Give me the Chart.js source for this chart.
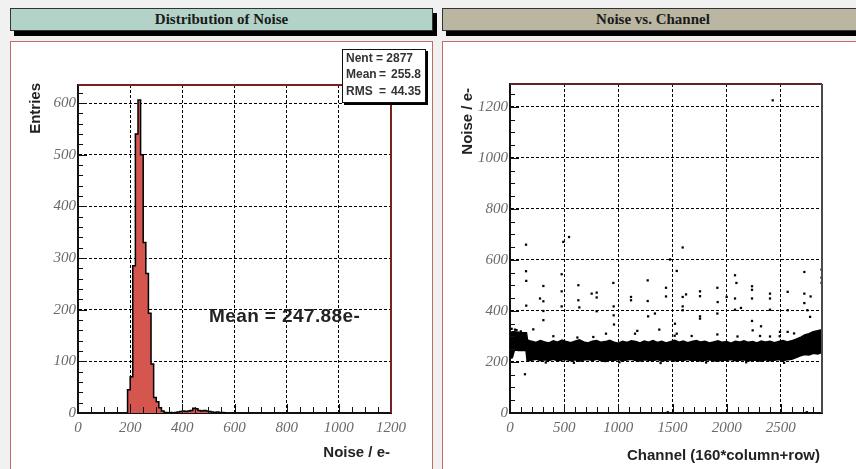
<!DOCTYPE html>
<html>
<head>
<meta charset="utf-8">
<title>Noise</title>
<script src="https://cdn.jsdelivr.net/npm/chart.js"></script>
<style>
  body { margin: 0; width: 856px; height: 469px; background: #f1f1f1; position: relative; overflow: hidden;
         font-family: 'Liberation Sans', Arial, sans-serif; }
  .bar { position: absolute; top: 8px; height: 21px; border: 1px solid #333; box-shadow: 4px 5px 0 #000;
         font: bold 15px 'Liberation Serif', serif; color: #1a1a1a; text-align: center; line-height: 21px; }
  .pad { position: absolute; top: 41px; height: 440px; background: #fff; border: 1.5px solid #c06a6a; }
  canvas { position: absolute; }
  .ttl { position: absolute; font: bold 15px 'Liberation Sans', Arial, sans-serif; color: #222; line-height: 16px; white-space: nowrap; }
  .rot { transform-origin: 0 0; transform: rotate(-90deg); width: 200px; text-align: right; }
  #stats { position: absolute; left: 342px; top: 49px; width: 82px; height: 52px; background: #fff; border: 1px solid #111;
           box-shadow: 2px 2px 0 #000; overflow: hidden; font: bold 12px 'Liberation Sans', Arial, sans-serif; color: #333; }
  #stats div { position: absolute; left: 3px; white-space: nowrap; line-height: 14px; }
  #stats span { display: inline-block; }
  #meanTxt { position: absolute; left: 209px; top: 305px; font: bold 19px 'Liberation Sans', Arial, sans-serif; color: #222;
             white-space: nowrap; letter-spacing: 0.4px; }
</style>
</head>
<body>
<div class="bar" style="left:10px; width:421px; background:#b3d2c8;">Distribution of Noise</div>
<div class="bar" style="left:442px; width:420px; background:#bbb6a2;">Noise vs. Channel</div>
<div class="pad" style="left:10px; width:421px;"></div>
<div class="pad" style="left:442px; width:420px;"></div>

<canvas id="noiseHist" width="424" height="429" style="left:10px; top:40px;"></canvas>
<canvas id="noiseChan" width="414" height="429" style="left:442px; top:40px;"></canvas>

<div class="ttl rot" style="left:27px; top:283px;">Entries</div>
<div class="ttl" style="left:190px; top:444px; width:200px; text-align:right;">Noise / e-</div>
<div class="ttl rot" style="left:459px; top:288px;">Noise / e-</div>
<div class="ttl" style="left:520px; top:447px; width:300px; text-align:right;">Channel (160*column+row)</div>

<div id="stats">
  <div style="top:1px;">Nent = 2877</div>
  <div style="top:17px;"><span style="width:33px">Mean</span><span style="width:12px">=</span>255.8</div>
  <div style="top:34px;"><span style="width:33px">RMS</span><span style="width:12px">=</span>44.35</div>
</div>
<div id="meanTxt">Mean = 247.88e-</div>

<script>
// axis tick labels
const histXTicks = [0, 200, 400, 600, 800, 1000, 1200];
const histYTicks = [0, 100, 200, 300, 400, 500, 600];
const chanXTicks = [0, 500, 1000, 1500, 2000, 2500];
const chanYTicks = [0, 200, 400, 600, 800, 1000, 1200];

// noise histogram: lower bin edges (e-) and entries, 10 e- bins
const binWidth = 10;
const binLow = [190, 200, 210, 220, 230, 240, 250, 260, 270, 280, 290, 300, 310, 320, 330, 340, 350, 360, 370, 380,
                390, 400, 410, 420, 430, 440, 450, 460, 470, 480, 490, 500, 510, 520, 530, 540, 550, 560];
const binCounts = [5, 45, 70, 285, 540, 606, 500, 330, 270, 193, 95, 30, 22, 10, 4, 1, 0, 1, 0, 1,
                   2, 3, 4, 3, 4, 5, 9, 8, 5, 4, 5, 4, 3, 2, 1, 2, 1, 1];

// noise per channel: envelope of the dense band
const bandCh = [0, 20, 40, 80, 120, 150, 160, 200, 240, 280, 320, 360, 400, 440, 480, 520, 560, 600, 640, 680,
                720, 760, 800, 840, 880, 920, 960, 1000, 1040, 1080, 1120, 1160, 1200, 1240, 1280, 1320, 1360, 1400,
                1440, 1480, 1520, 1560, 1600, 1640, 1680, 1720, 1760, 1800, 1840, 1880, 1920, 1960, 2000, 2040, 2080,
                2120, 2160, 2200, 2240, 2280, 2320, 2360, 2400, 2440, 2480, 2520, 2560, 2600, 2640, 2680, 2720, 2760,
                2800, 2840, 2880];
const bandLow = [215, 218, 248, 246, 247, 246, 205, 208, 212, 206, 210, 207, 212, 205, 209, 211, 206, 210, 204, 209,
                 211, 207, 212, 206, 203, 209, 207, 211, 206, 209, 212, 207, 205, 210, 208, 206, 211, 204,
                 208, 210, 205, 209, 207, 211, 206, 209, 205, 208, 210, 206, 204, 209, 207, 211, 206,
                 208, 210, 205, 209, 207, 204, 210, 206, 208, 211, 207, 210, 212, 218, 225, 230, 228,
                 235, 232, 238];
const bandHigh = [312, 318, 318, 316, 314, 314, 285, 280, 276, 283, 278, 274, 282, 277, 285, 279, 275, 281, 286, 278,
                  274, 280, 283, 276, 279, 284, 277, 273, 280, 276, 282, 279, 274, 281, 277, 283, 276, 280,
                  274, 279, 284, 277, 281, 275, 279, 283, 277, 280, 274, 278, 282, 276, 279, 273, 280,
                  277, 282, 276, 279, 274, 281, 277, 280, 275, 279, 283, 278, 282, 288, 295, 305, 310,
                  318, 322, 326];

// isolated channels away from the band
const outCh = [148, 492, 545, 2425, 1594, 1477, 1539, 148, 150, 150, 277, 308, 308, 308, 308, 46, 215, 477, 477, 477,
               631, 631, 640, 754, 800, 800, 800, 954, 957, 957, 960, 1117, 1117, 1271, 1271, 1275, 1338, 1378, 1440, 1440,
               1523, 1594, 1625, 1594, 1594, 1754, 1754, 1754, 1754, 1914, 1917, 1914, 2000, 2077, 2090, 2077, 2077, 2132,
               2234, 2234, 2234, 2234, 2240, 2317, 2400, 2400, 2400, 2492, 2490, 2563, 2563, 2563, 2717, 2717, 2717, 2745,
               2770, 2775, 2876, 2876, 2876, 138, 1456, 2740, 400, 622, 769, 886, 1154, 1175, 1520, 1539, 1677, 1914, 2100,
               2308, 2400, 2622, 15, 60, 100, 330, 590, 1010, 1390, 1810, 2180, 2530];
const outVal = [660, 671, 690, 1226, 649, 602, 557, 556, 518, 421, 449, 498, 438, 400, 364, 327, 328, 544, 477, 418,
                501, 442, 414, 468, 472, 453, 399, 510, 418, 383, 347, 455, 442, 520, 439, 379, 390, 327, 491, 457,
                350, 455, 465, 418, 403, 477, 458, 379, 370, 491, 435, 390, 455, 540, 510, 449, 405, 412,
                497, 483, 449, 361, 324, 340, 468, 449, 405, 318, 301, 475, 403, 318, 553, 468, 431, 403,
                377, 457, 562, 531, 510, 152, 3, 3, 301, 296, 298, 311, 311, 322, 303, 311, 302, 308, 300,
                302, 300, 312, 330, 325, 320, 198, 197, 199, 196, 198, 199, 197];

// ROOT style frame: inward ticks, coloured top/right edges
const rootFrame = {
  id: 'rootFrame',
  afterDraw(chart, args, o) {
    const { ctx, chartArea: a, scales: { x, y } } = chart;
    ctx.save();
    ctx.strokeStyle = '#111';
    ctx.lineWidth = 1;
    ctx.beginPath();
    for (let v = x.min; v <= x.max; v += o.xMinor) {
      const px = Math.round(x.getPixelForValue(v)) + 0.5;
      const len = v % o.xMajor === 0 ? 9 : 6;
      ctx.moveTo(px, a.bottom);
      ctx.lineTo(px, a.bottom - len);
    }
    for (let v = y.min; v <= y.max; v += o.yMinor) {
      const py = Math.round(y.getPixelForValue(v)) + 0.5;
      const len = v % o.yMajor === 0 ? 9 : 5;
      ctx.moveTo(a.left, py);
      ctx.lineTo(a.left + len, py);
    }
    ctx.stroke();
    ctx.lineWidth = 2;
    ctx.strokeStyle = o.topColor;
    ctx.beginPath();
    ctx.moveTo(a.left, a.top);
    ctx.lineTo(a.right, a.top);
    ctx.stroke();
    ctx.strokeStyle = o.rightColor;
    ctx.beginPath();
    ctx.moveTo(a.right, a.top);
    ctx.lineTo(a.right, a.bottom);
    ctx.stroke();
    ctx.restore();
  }
};

const tickFont = { family: "'Liberation Serif', serif", style: 'italic', size: 15 };
const gridOpts = { color: '#000', lineWidth: 1, drawTicks: false };
const borderOpts = { color: '#111', width: 2, dash: [3, 2] };

function axis(min, max, tickValues, pad, fit) {
  return {
    type: 'linear', min, max,
    ticks: {
      font: tickFont, color: '#6a6a6a', padding: pad,
      autoSkip: false, maxRotation: 0, minRotation: 0,
      callback: v => String(v)
    },
    afterBuildTicks: s => { s.ticks = tickValues.map(v => ({ value: v })); },
    afterFit: fit,
    grid: gridOpts, border: borderOpts
  };
}

// histogram as a filled step outline
const histPoints = [{ x: binLow[0], y: 0 }];
binLow.forEach((b, i) => histPoints.push({ x: b, y: binCounts[i] }));
histPoints.push({ x: binLow[binLow.length - 1] + binWidth, y: 0 });

new Chart(document.getElementById('noiseHist'), {
  type: 'line',
  data: {
    datasets: [{
      data: histPoints, stepped: 'after', fill: 'origin',
      backgroundColor: '#d5564f', borderColor: '#000', borderWidth: 1.5, pointRadius: 0
    }]
  },
  options: {
    responsive: false, animation: false, devicePixelRatio: 1,
    layout: { padding: { left: 0, top: 45, right: 43, bottom: 26 } },
    plugins: {
      legend: { display: false }, tooltip: { enabled: false },
      rootFrame: { xMinor: 50, xMajor: 200, yMinor: 20, yMajor: 100, topColor: '#7d1f1f', rightColor: '#7d1f1f' }
    },
    scales: {
      x: axis(0, 1200, histXTicks, 6, s => { s.height = 30; }),
      y: axis(0, 635, histYTicks, 2, s => { s.width = 68; })
    }
  },
  plugins: [rootFrame]
});

new Chart(document.getElementById('noiseChan'), {
  type: 'line',
  data: {
    datasets: [
      {
        data: bandCh.map((c, i) => ({ x: c, y: bandLow[i] })),
        borderColor: '#000', borderWidth: 2, pointRadius: 0, fill: false
      },
      {
        data: bandCh.map((c, i) => ({ x: c, y: bandHigh[i] })),
        borderColor: '#000', borderWidth: 2, pointRadius: 0, fill: '-1', backgroundColor: '#000'
      },
      {
        data: outCh.map((c, i) => ({ x: c, y: outVal[i] })),
        showLine: false, pointStyle: 'rect', pointRadius: 1.6, backgroundColor: '#000', borderWidth: 0
      }
    ]
  },
  options: {
    responsive: false, animation: false, devicePixelRatio: 1,
    layout: { padding: { left: 0, top: 44, right: 34, bottom: 26 } },
    plugins: {
      legend: { display: false }, tooltip: { enabled: false },
      rootFrame: { xMinor: 100, xMajor: 500, yMinor: 50, yMajor: 200, topColor: '#5a2626', rightColor: '#4a4a4a' }
    },
    scales: {
      x: axis(0, 2880, chanXTicks, 6, s => { s.height = 30; }),
      y: axis(0, 1290, chanYTicks, 2, s => { s.width = 68; })
    }
  },
  plugins: [rootFrame]
});
</script>
</body>
</html>
